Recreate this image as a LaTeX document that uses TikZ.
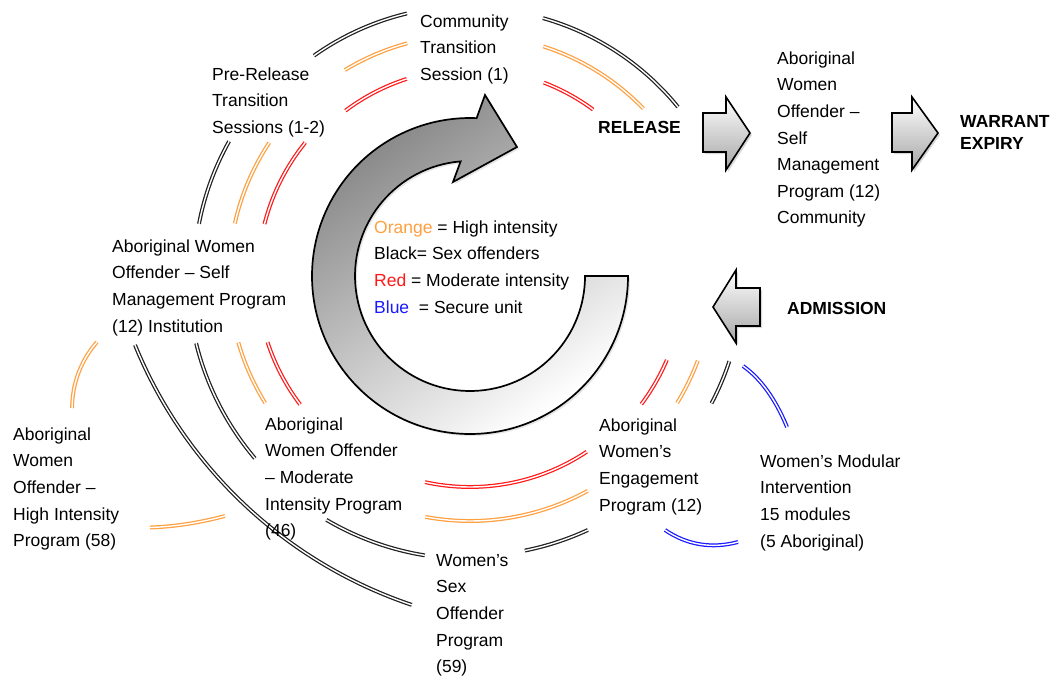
\documentclass[tikz,border=0pt]{standalone}
\usepackage{fontspec}
\setmainfont{Liberation Sans}
\usetikzlibrary{shadows}
\definecolor{orgL}{HTML}{FFA040}
\definecolor{redL}{HTML}{FF1A1A}
\definecolor{bluL}{HTML}{1A1AFF}
\definecolor{blkL}{HTML}{202020}
\newcommand\fstrut{\rule{0pt}{14pt}}
\newcommand\ringarc[4]{\draw[#1] (C) ++(#2:#4) arc[start angle=#2, end angle=#3, radius=#4];}
\begin{document}
\begin{tikzpicture}[x=1pt,y=-1pt,
  lbl/.style={anchor=north west, inner sep=0pt, align=left, font=\fontsize{17.5}{26.6}\selectfont},
  bld/.style={anchor=north west, inner sep=0pt, align=left, font=\fontsize{17.5}{22}\selectfont\bfseries},
  pathline/.style={line width=1.25pt, double=white, double distance=1.4pt},
  blk/.style={pathline, draw=blkL},
  org/.style={pathline, draw=orgL},
  rd/.style={pathline, draw=redL},
  blu/.style={pathline, draw=bluL},
  blockarrow/.style={draw=black, line width=1.6pt, line join=miter, top color=white, bottom color=black!35,
    drop shadow={shadow xshift=2pt, shadow yshift=-2pt, opacity=0.3}},
  ringarrow/.style={draw=black, line width=1.7pt, line join=miter, top color=black!48, bottom color=white, shading angle=35,
    drop shadow={shadow xshift=2pt, shadow yshift=-2pt, opacity=0.2}}
]
\fill[white] (0,0) rectangle (1055,677);
\useasboundingbox (0,0) rectangle (1055,677);
\coordinate (C) at (470,276);

% circular arrow
\draw[ringarrow] (628,276) arc[start angle=0, end angle=272.4, radius=158]
  -- (485,95) -- (517,147) -- (453,182) -- (460.6,161.4)
  arc[start angle=265.3, end angle=0, radius=115] -- cycle;

% pathway arcs (concentric)
\ringarc{blk}{234.7}{256.5}{270}
\ringarc{blk}{285.8}{320.9}{268}
\ringarc{org}{238.7}{254.9}{241}
\ringarc{org}{287.7}{316}{241}
\ringarc{rd}{233}{252.2}{207}
\ringarc{rd}{290.9}{306.5}{207}
\ringarc{blk}{190.9}{209.2}{276}
\ringarc{org}{192.6}{213.6}{241}
\ringarc{rd}{194.2}{219}{212}
\ringarc{blk}{139.7}{166.2}{282}
\ringarc{org}{148.2}{164}{241}
\ringarc{rd}{142.9}{161.9}{213}
\ringarc{blk}{99.2}{120.5}{283}
\ringarc{blk}{65.1}{78.7}{280}
\ringarc{blk}{18.2}{27.8}{273}
\ringarc{org}{20.4}{31.5}{243}
\ringarc{rd}{23.1}{36.8}{214}
\ringarc{rd}{56.4}{102.3}{211}
\ringarc{org}{61.3}{100.5}{245}

% other arcs
\draw[blk] (135,345) arc[start angle=157.8, end angle=108.6, radius=456];
\draw[org] (97,342) arc[start angle=221.3, end angle=180, radius=100];
\draw[org] (150,527.5) .. controls (174.3,526.7) and (199.3,522.8) .. (225,516);
\draw[blu] (743,366) .. controls (760,378) and (775,398) .. (787,427);
\draw[blu] (665,530) .. controls (687,545) and (712,549) .. (738,542);

% block arrows
\draw[blockarrow] (703,113) -- (726,113) -- (726,97) -- (750,133) -- (726,170) -- (726,152) -- (703,152) -- cycle;
\draw[blockarrow] (892,113) -- (912,113) -- (912,97) -- (938,133) -- (912,170) -- (912,152) -- (892,152) -- cycle;
\draw[blockarrow] (713,307) -- (736,270) -- (736,288) -- (760,288) -- (760,326) -- (736,326) -- (736,343) -- cycle;

% labels
\node[lbl] (comm) at (420,13) {\fstrut Community\\Transition\\Session (1)};
\node[lbl] (pre) at (212,66) {\fstrut Pre-Release\\Transition\\Sessions (1-2)};
\node[bld] (release) at (598,119) {\fstrut RELEASE};
\node[lbl] (awc) at (777,50) {\fstrut Aboriginal\\Women\\Offender –\\Self\\Management\\Program (12)\\Community};
\node[bld] (warrant) at (960,113) {\fstrut WARRANT\\EXPIRY};
\node[bld] (admission) at (787,300) {\fstrut ADMISSION};
\node[lbl] (legend) at (374,219) {\fstrut\textcolor{orgL}{Orange} = High intensity\\Black= Sex offenders\\\textcolor{redL}{Red} = Moderate intensity\\\textcolor{bluL}{Blue}\ \ = Secure unit};
\node[lbl] (inst) at (112,238) {\fstrut Aboriginal Women\\Offender – Self\\Management Program\\(12) Institution};
\node[lbl] (hi) at (13,426) {\fstrut Aboriginal\\Women\\Offender –\\High Intensity\\Program (58)};
\node[lbl] (mod) at (265,416) {\fstrut Aboriginal\\Women Offender\\– Moderate\\Intensity Program\\(46)};
\node[lbl] (sexoff) at (436,552) {\fstrut Women’s\\Sex\\Offender\\Program\\(59)};
\node[lbl] (eng) at (599,417) {\fstrut Aboriginal\\Women’s\\Engagement\\Program (12)};
\node[lbl] (modular) at (760,453) {\fstrut Women’s Modular\\Intervention\\15 modules\\(5 Aboriginal)};
\end{tikzpicture}
\end{document}
